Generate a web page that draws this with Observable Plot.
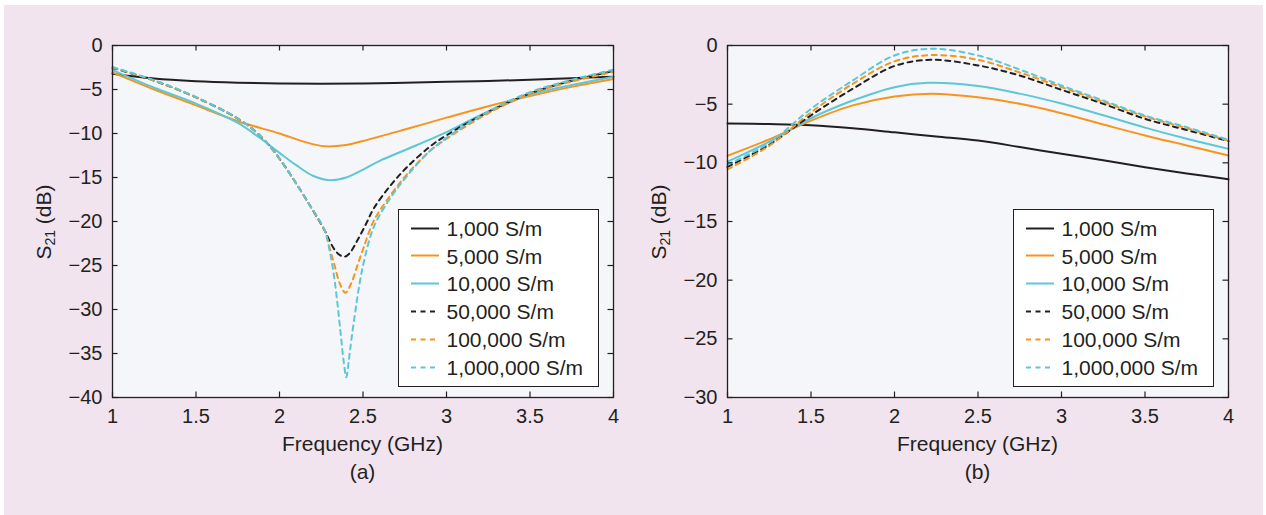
<!DOCTYPE html>
<html>
<head>
<meta charset="utf-8">
<script src="https://cdn.jsdelivr.net/npm/d3@7"></script>
<script src="https://cdn.jsdelivr.net/npm/@observablehq/plot@0.6"></script>
<style>
  html, body { margin: 0; padding: 0; background: #ffffff; }
  body { width: 1266px; height: 515px; position: relative; overflow: hidden;
         font-family: "Liberation Sans", Arial, Helvetica, sans-serif; color: #231f20; }
  #bg { position: absolute; left: 4px; top: 5px; width: 1259px; height: 510px; background: #f1e4ee; }
  .panel { position: absolute; top: 0; }
  .title { position: absolute; font-size: 21px; line-height: 21px; white-space: nowrap; transform: translateX(-50%); }
  .ylab { position: absolute; font-size: 21px; line-height: 21px; white-space: nowrap;
          transform: translate(-50%, -50%) rotate(-90deg); }
  .ylab sub { font-size: 14px; line-height: 0; vertical-align: -4px; }
  .legend { position: absolute; box-sizing: border-box; width: 201px; height: 178px;
            background: #ffffff; border: 1.2px solid #231f20; }
  .row { position: absolute; left: 0; height: 21px; font-size: 21px; line-height: 21px; white-space: nowrap; }
  .row svg { position: absolute; left: 11px; top: 8.8px; }
  .row span { position: absolute; left: 47.5px; top: 0; }
</style>
</head>
<body>
<div id="bg"></div>
<div id="root"></div>
<script>
// ---------- data (frequency GHz, S21 dB) ----------
const xTicks = [1, 1.5, 2, 2.5, 3, 3.5, 4];
const yTicksA = [0, -5, -10, -15, -20, -25, -30, -35, -40];
const yTicksB = [0, -5, -10, -15, -20, -25, -30];
const legendLabels = ["1,000 S/m", "5,000 S/m", "10,000 S/m", "50,000 S/m", "100,000 S/m", "1,000,000 S/m"];

// Panel (a)
const a1000 = [[1,-3.2],[1.25,-3.75],[1.5,-4.05],[1.75,-4.22],[2,-4.32],[2.25,-4.36],[2.5,-4.32],[2.75,-4.22],[3,-4.12],[3.25,-4.02],[3.5,-3.9],[3.75,-3.72],[4,-3.55]];
const a5000 = [[1,-3.05],[1.25,-5.0],[1.5,-6.8],[1.75,-8.6],[2,-10.0],[2.15,-10.95],[2.27,-11.45],[2.4,-11.3],[2.5,-10.85],[2.75,-9.55],[3,-8.2],[3.25,-6.9],[3.5,-5.75],[3.75,-4.7],[4,-3.8]];
const a10000 = [[1,-2.8],[1.25,-4.8],[1.5,-6.6],[1.75,-8.8],[1.875,-10.4],[2,-12.2],[2.1,-13.6],[2.2,-14.8],[2.3,-15.3],[2.4,-15.0],[2.5,-14.1],[2.6,-13.1],[2.75,-11.9],[3,-9.85],[3.25,-7.5],[3.5,-5.6],[3.75,-4.5],[4,-3.55]];
const a50000 = [[1,-2.55],[1.25,-4.0],[1.5,-5.9],[1.75,-8.3],[1.87,-10.0],[1.97,-12.1],[2.07,-14.8],[2.17,-17.8],[2.27,-21.0],[2.3,-22.2],[2.33,-23.2],[2.36,-23.8],[2.39,-24.0],[2.42,-23.6],[2.465,-22.2],[2.52,-20.2],[2.565,-18.5],[2.665,-15.9],[2.765,-13.8],[2.9,-11.5],[3,-10.2],[3.25,-7.55],[3.5,-5.45],[3.75,-4.0],[4,-2.9]];
const a100000 = [[1,-2.5],[1.25,-4.0],[1.5,-5.9],[1.75,-8.3],[1.87,-10.0],[1.97,-12.1],[2.07,-14.8],[2.17,-17.8],[2.27,-21.0],[2.3,-23.0],[2.33,-25.0],[2.36,-27.0],[2.395,-28.1],[2.43,-27.0],[2.47,-24.8],[2.505,-22.9],[2.565,-19.9],[2.665,-17.0],[2.765,-14.6],[2.9,-12.0],[3,-10.6],[3.25,-7.7],[3.5,-5.5],[3.75,-4.1],[4,-3.0]];
const a1000000 = [[1,-2.45],[1.25,-3.95],[1.5,-5.85],[1.75,-8.3],[1.87,-10.0],[1.97,-12.1],[2.07,-14.8],[2.17,-17.8],[2.27,-21.0],[2.3,-23.3],[2.325,-26.0],[2.345,-29.0],[2.365,-32.5],[2.385,-36.0],[2.4,-37.7],[2.415,-35.8],[2.43,-33.5],[2.455,-30.1],[2.48,-27.0],[2.505,-24.6],[2.565,-20.6],[2.665,-17.3],[2.765,-14.8],[2.9,-12.0],[3,-10.5],[3.25,-7.5],[3.5,-5.3],[3.75,-3.9],[4,-2.75]];

// Panel (b)
const b1000 = [[1,-6.65],[1.25,-6.7],[1.5,-6.8],[1.75,-7.05],[2,-7.4],[2.25,-7.75],[2.5,-8.1],[2.75,-8.65],[3,-9.23],[3.25,-9.78],[3.5,-10.37],[3.75,-10.9],[4,-11.4]];
const b5000 = [[1,-9.4],[1.25,-8.0],[1.5,-6.4],[1.75,-5.1],[2,-4.35],[2.22,-4.12],[2.5,-4.42],[2.75,-4.97],[3,-5.77],[3.25,-6.73],[3.5,-7.67],[3.75,-8.52],[4,-9.38]];
const b10000 = [[1,-9.9],[1.25,-8.2],[1.5,-6.2],[1.75,-4.69],[2,-3.55],[2.2,-3.18],[2.5,-3.45],[2.75,-4.1],[3,-4.95],[3.25,-5.95],[3.5,-7.0],[3.75,-7.95],[4,-8.81]];
const b50000 = [[1,-10.35],[1.25,-8.45],[1.5,-5.95],[1.75,-3.69],[2,-1.75],[2.22,-1.22],[2.5,-1.7],[2.75,-2.56],[3,-3.78],[3.25,-4.97],[3.5,-6.25],[3.75,-7.2],[4,-8.15]];
const b100000 = [[1,-10.55],[1.25,-8.55],[1.5,-5.7],[1.75,-3.27],[2,-1.35],[2.22,-0.82],[2.5,-1.22],[2.75,-2.3],[3,-3.55],[3.25,-4.8],[3.5,-6.05],[3.75,-7.05],[4,-8.12]];
const b1000000 = [[1,-10.15],[1.25,-8.3],[1.5,-5.4],[1.75,-2.98],[2,-0.85],[2.22,-0.28],[2.5,-0.85],[2.75,-2.05],[3,-3.41],[3.25,-4.69],[3.5,-5.97],[3.75,-6.96],[4,-8.04]];

// ---------- styles ----------
const BLACK = "#231f20", ORANGE = "#f7941d", CYAN = "#5ec7d6";
const seriesStyle = [
  {color: BLACK, dash: null},
  {color: ORANGE, dash: null},
  {color: CYAN, dash: null},
  {color: BLACK, dash: "5,4.5"},
  {color: ORANGE, dash: "5,4.5"},
  {color: CYAN, dash: "5,4.5"}
];

const W = 633, H = 470, ML = 112, MR = 20, MT = 45, MB = 73;
const FW = W - ML - MR, FH = H - MT - MB, TICK = 5.5;
const minus = d => d < 0 ? "\u2212" + Math.abs(d) : String(d);

function panel(seriesData, yDomain, yTicks) {
  const lines = seriesData.map((data, i) => Plot.line(data, {
    x: d => d[0], y: d => d[1],
    stroke: seriesStyle[i].color, strokeWidth: 2,
    strokeDasharray: seriesStyle[i].dash, curve: "catmull-rom", strokeLinejoin: "round"
  }));
  return Plot.plot({
    width: W, height: H,
    marginLeft: ML, marginRight: MR, marginTop: MT, marginBottom: MB,
    style: {background: "transparent", fontFamily: "'Liberation Sans', Arial, Helvetica, sans-serif",
            fontSize: "20px", color: BLACK, overflow: "visible"},
    x: {domain: [1, 4]},
    y: {domain: yDomain},
    marks: [
      Plot.frame({fill: "#f4f6f9", stroke: null}),
      ...lines,
      Plot.tickX(xTicks, {x: d => d, stroke: BLACK, strokeWidth: 1.2, insetTop: FH - TICK}),
      Plot.tickX(xTicks, {x: d => d, stroke: BLACK, strokeWidth: 1.2, insetBottom: FH - TICK}),
      Plot.tickY(yTicks, {y: d => d, stroke: BLACK, strokeWidth: 1.2, insetRight: FW - TICK}),
      Plot.tickY(yTicks, {y: d => d, stroke: BLACK, strokeWidth: 1.2, insetLeft: FW - TICK}),
      Plot.frame({stroke: BLACK, strokeWidth: 1.3, fill: null}),
      Plot.axisX(xTicks, {tickSize: 0, tickPadding: 11, tickFormat: d => String(d), label: null, fill: BLACK}),
      Plot.axisY(yTicks, {tickSize: 0, tickPadding: 10, tickFormat: minus, label: null, fill: BLACK})
    ]
  });
}

function addPanel(offsetX, seriesData, yDomain, yTicks, tag) {
  const root = document.getElementById("root");
  const wrap = document.createElement("div");
  wrap.className = "panel";
  wrap.style.left = offsetX + "px";
  wrap.appendChild(panel(seriesData, yDomain, yTicks));
  root.appendChild(wrap);

  const cx = offsetX + ML + FW / 2;
  const xl = document.createElement("div");
  xl.className = "title"; xl.style.left = cx + "px"; xl.style.top = "433px";
  xl.textContent = "Frequency (GHz)";
  root.appendChild(xl);

  const cap = document.createElement("div");
  cap.className = "title"; cap.style.left = cx + "px"; cap.style.top = "461px";
  cap.textContent = tag;
  root.appendChild(cap);

  const yl = document.createElement("div");
  yl.className = "ylab"; yl.style.left = (offsetX + 42.5) + "px"; yl.style.top = (MT + FH / 2 + 1) + "px";
  yl.innerHTML = "S<sub>21</sub> (dB)";
  root.appendChild(yl);

  const lg = document.createElement("div");
  lg.className = "legend";
  lg.style.left = (offsetX + ML + FW - 14 - 201) + "px";
  lg.style.top = "209px";
  legendLabels.forEach((lab, i) => {
    const row = document.createElement("div");
    row.className = "row";
    row.style.top = (7.8 + i * 27.8) + "px";
    const st = seriesStyle[i];
    row.innerHTML = `<svg width="30" height="3"><line x1="1" y1="1.5" x2="29" y2="1.5" stroke="${st.color}" stroke-width="2" ${st.dash ? `stroke-dasharray="${st.dash}"` : ""}/></svg><span></span>`;
    row.querySelector("span").textContent = lab;
    lg.appendChild(row);
  });
  root.appendChild(lg);
}

addPanel(0, [a1000, a5000, a10000, a50000, a100000, a1000000], [-40, 0], yTicksA, "(a)");
addPanel(615, [b1000, b5000, b10000, b50000, b100000, b1000000], [-30, 0], yTicksB, "(b)");
</script>
</body>
</html>
